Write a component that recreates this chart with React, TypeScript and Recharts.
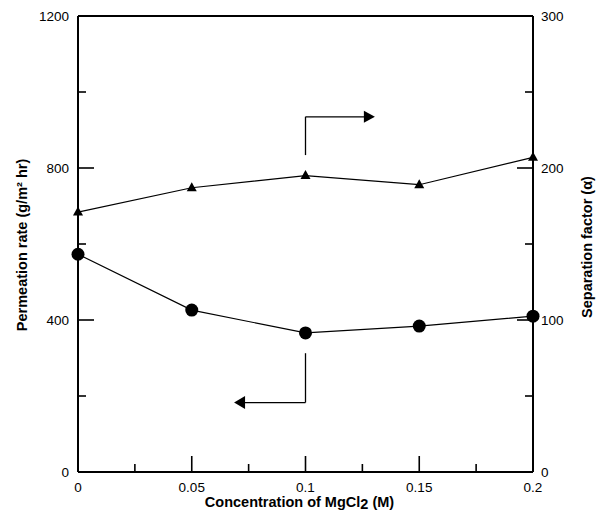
import React from 'react';
import {
    ComposedChart,
    Line,
    XAxis,
    YAxis,
    ReferenceLine,
    ReferenceDot,
    Label
} from 'recharts';

// values
const concentration = [0, 0.05, 0.1, 0.15, 0.2];
const permeationRate = [573, 426, 366, 384, 410];
const separationFactor = [171, 187, 195, 189, 207];

const xTicks = [0, 0.025, 0.05, 0.075, 0.1, 0.125, 0.15, 0.175, 0.2];
const xTickLabels = ['0', '', '0.05', '', '0.1', '', '0.15', '', '0.2'];
const leftTicks = [0, 200, 400, 600, 800, 1000, 1200];
const rightTicks = [0, 50, 100, 150, 200, 250, 300];

const FONT = 'Arial, "Liberation Sans", sans-serif';
const TICK_FONT = 13.5;
const TITLE_FONT = 14.5;

const data = concentration.map((c, i) => ({
    c,
    permeation: permeationRate[i],
    separation: separationFactor[i]
}));

const BottomTick = (props: any) => {
    const { x, y, index } = props;
    const label = xTickLabels[index] ?? '';
    const len = label ? 16 : 8;
    return (
        <g>
            <line x1={x} y1={y} x2={x} y2={y - len} stroke="#000" strokeWidth={1.6} />
            {label && (
                <text x={x} y={y + 20} textAnchor="middle" fontSize={TICK_FONT} fontFamily={FONT} fill="#000">
                    {label}
                </text>
            )}
        </g>
    );
};

const LeftTick = (props: any) => {
    const { x, y, payload } = props;
    const major = payload.value % 400 === 0;
    return (
        <g>
            <line x1={x} y1={y} x2={x + (major ? 16 : 8)} y2={y} stroke="#000" strokeWidth={1.6} />
            {major && (
                <text x={x - 9} y={y} dy="0.36em" textAnchor="end" fontSize={TICK_FONT} fontFamily={FONT} fill="#000">
                    {payload.value}
                </text>
            )}
        </g>
    );
};

const RightTick = (props: any) => {
    const { x, y, payload } = props;
    const major = payload.value % 100 === 0;
    return (
        <g>
            <line x1={x} y1={y} x2={x - (major ? 16 : 8)} y2={y} stroke="#000" strokeWidth={1.6} />
            {major && (
                <text x={x + 8} y={y} dy="0.36em" textAnchor="start" fontSize={TICK_FONT} fontFamily={FONT} fill="#000">
                    {payload.value}
                </text>
            )}
        </g>
    );
};

const circleDot = (p: any) => (
    <circle key={`c-${p.index}`} cx={p.cx} cy={p.cy} r={6.5} fill="#000" />
);

const triangleDot = (p: any) => (
    <polygon
        key={`t-${p.index}`}
        points={`${p.cx},${p.cy - 5.5} ${p.cx - 5},${p.cy + 3.5} ${p.cx + 5},${p.cy + 3.5}`}
        fill="#000"
    />
);

const arrowRight = (p: any) => (
    <polygon points={`${p.cx},${p.cy} ${p.cx - 11},${p.cy - 6} ${p.cx - 11},${p.cy + 6}`} fill="#000" />
);

const arrowLeft = (p: any) => (
    <polygon points={`${p.cx},${p.cy} ${p.cx + 11},${p.cy - 6.5} ${p.cx + 11},${p.cy + 6.5}`} fill="#000" />
);

const App: React.FC = () => {
    return (
        <div style={{ position: 'absolute', left: 0, top: 0, background: '#fff' }}>
            <ComposedChart width={603} height={511} data={data} margin={{ top: 16, right: 0, bottom: 0, left: 0 }}>
                <XAxis
                    dataKey="c"
                    type="number"
                    domain={[0, 0.2]}
                    ticks={xTicks}
                    interval={0}
                    tickSize={0}
                    tickMargin={0}
                    tickLine={false}
                    axisLine={{ stroke: '#000', strokeWidth: 2 }}
                    tick={<BottomTick />}
                    height={39}
                >
                    <Label
                        content={(props: any) => {
                            const vb = props.viewBox;
                            return (
                                <text
                                    x={vb.x + vb.width / 2 - 6}
                                    y={vb.y + 35}
                                    textAnchor="middle"
                                    fontSize={TITLE_FONT}
                                    fontWeight="bold"
                                    fontFamily={FONT}
                                    fill="#000"
                                >
                                    Concentration of MgCl<tspan dy={2}>2</tspan>
                                    <tspan dy={-2}> (M)</tspan>
                                </text>
                            );
                        }}
                    />
                </XAxis>
                <YAxis
                    yAxisId="left"
                    domain={[0, 1200]}
                    ticks={leftTicks}
                    interval={0}
                    tickSize={0}
                    tickMargin={0}
                    tickLine={false}
                    axisLine={{ stroke: '#000', strokeWidth: 2 }}
                    tick={<LeftTick />}
                    width={78}
                >
                    <Label
                        content={(props: any) => {
                            const vb = props.viewBox;
                            const cx = vb.x + 22;
                            const cy = vb.y + vb.height / 2 + 1;
                            return (
                                <text
                                    x={cx}
                                    y={cy}
                                    transform={`rotate(-90, ${cx}, ${cy})`}
                                    textAnchor="middle"
                                    dominantBaseline="central"
                                    fontSize={TITLE_FONT}
                                    fontWeight="bold"
                                    fontFamily={FONT}
                                    fill="#000"
                                >
                                    Permeation rate (g/m² hr)
                                </text>
                            );
                        }}
                    />
                </YAxis>
                <YAxis
                    yAxisId="right"
                    orientation="right"
                    domain={[0, 300]}
                    ticks={rightTicks}
                    interval={0}
                    tickSize={0}
                    tickMargin={0}
                    tickLine={false}
                    axisLine={{ stroke: '#000', strokeWidth: 2 }}
                    tick={<RightTick />}
                    width={70}
                >
                    <Label
                        content={(props: any) => {
                            const vb = props.viewBox;
                            const cx = vb.x + 54;
                            const cy = vb.y + vb.height / 2 + 3;
                            return (
                                <text
                                    x={cx}
                                    y={cy}
                                    transform={`rotate(-90, ${cx}, ${cy})`}
                                    textAnchor="middle"
                                    dominantBaseline="central"
                                    fontSize={TITLE_FONT}
                                    fontWeight="bold"
                                    fontFamily={FONT}
                                    fill="#000"
                                >
                                    Separation factor (α)
                                </text>
                            );
                        }}
                    />
                </YAxis>

                {/* top frame */}
                <ReferenceLine yAxisId="left" y={1200} stroke="#000" strokeWidth={2} />

                {/* arrow pointing to right axis */}
                <ReferenceLine yAxisId="right" segment={[{ x: 0.1, y: 208.5 }, { x: 0.1, y: 233.7 }]} stroke="#000" strokeWidth={1.3} />
                <ReferenceLine yAxisId="right" segment={[{ x: 0.1, y: 233.7 }, { x: 0.126, y: 233.7 }]} stroke="#000" strokeWidth={1.3} />
                <ReferenceDot yAxisId="right" x={0.1305} y={233.7} r={0} shape={arrowRight} />

                {/* arrow pointing to left axis */}
                <ReferenceLine yAxisId="left" segment={[{ x: 0.1, y: 312.6 }, { x: 0.1, y: 182.8 }]} stroke="#000" strokeWidth={1.3} />
                <ReferenceLine yAxisId="left" segment={[{ x: 0.1, y: 182.8 }, { x: 0.073, y: 182.8 }]} stroke="#000" strokeWidth={1.3} />
                <ReferenceDot yAxisId="left" x={0.0686} y={182.8} r={0} shape={arrowLeft} />

                <Line
                    yAxisId="left"
                    dataKey="permeation"
                    stroke="#000"
                    strokeWidth={1.2}
                    dot={circleDot}
                    activeDot={false}
                    isAnimationActive={false}
                />
                <Line
                    yAxisId="right"
                    dataKey="separation"
                    stroke="#000"
                    strokeWidth={1.2}
                    dot={triangleDot}
                    activeDot={false}
                    isAnimationActive={false}
                />
            </ComposedChart>
        </div>
    );
};

export default App;
